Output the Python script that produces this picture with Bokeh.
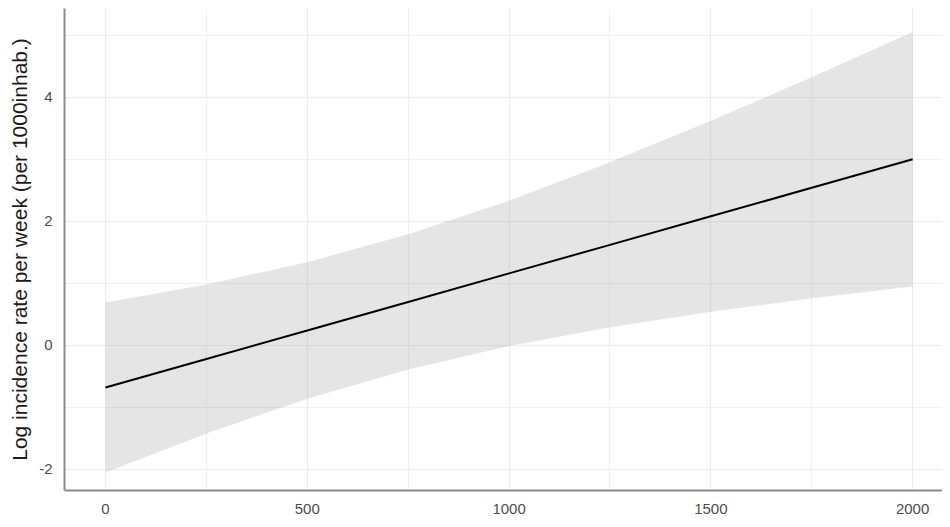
from bokeh.plotting import figure
from bokeh.models import ColumnDataSource, FixedTicker, Range1d, PrintfTickFormatter
from bokeh.embed import file_html
from bokeh.resources import INLINE

# Estimated data
x_vals = [0, 250, 500, 750, 1000, 1250, 1500, 1750, 2000]
fit = [-0.68, -0.22, 0.24, 0.70, 1.16, 1.62, 2.08, 2.54, 3.00]
upper = [0.69, 0.98, 1.34, 1.79, 2.33, 2.95, 3.62, 4.32, 5.05]
lower = [-2.05, -1.42, -0.86, -0.39, -0.01, 0.29, 0.54, 0.76, 0.95]

x_ticks = [0, 500, 1000, 1500, 2000]
x_minor = [250, 750, 1250, 1750]
y_ticks = [-2, 0, 2, 4]
y_minor = [-1, 1, 3, 5]

src = ColumnDataSource(dict(x=x_vals, fit=fit, upper=upper, lower=lower))

p = figure(width=942, height=522, output_backend="svg", toolbar_location=None,
           x_range=Range1d(-101.6, 2074), y_range=Range1d(-2.34, 5.43),
           min_border_left=64, min_border_right=0, min_border_top=8, min_border_bottom=32)
p.outline_line_color = None
p.background_fill_color = "white"

p.varea(x="x", y1="lower", y2="upper", source=src, fill_color="#999999", fill_alpha=0.25)
p.line(x="x", y="fit", source=src, line_color="black", line_width=2)

p.xaxis.ticker = FixedTicker(ticks=x_ticks, minor_ticks=x_minor)
p.yaxis.ticker = FixedTicker(ticks=y_ticks, minor_ticks=y_minor)
p.xaxis.formatter = PrintfTickFormatter(format="%d")
p.yaxis.formatter = PrintfTickFormatter(format="%d")

for g in (p.xgrid, p.ygrid):
    g.grid_line_color = "#ebebeb"
    g.grid_line_width = 1
    g.minor_grid_line_color = "#f0f0f0"
    g.minor_grid_line_width = 1

for ax in (p.xaxis, p.yaxis):
    ax.axis_line_color = "#8c8c8c"
    ax.axis_line_width = 2
    ax.major_tick_line_color = None
    ax.minor_tick_line_color = None
    ax.major_tick_out = 0
    ax.minor_tick_out = 0
    ax.major_label_text_font = "Liberation Sans"
    ax.major_label_text_font_size = "15px"
    ax.major_label_text_color = "#4d4d4d"

p.xaxis.major_label_standoff = 13
p.yaxis.major_label_standoff = 12
p.yaxis.axis_label = "Log incidence rate per week (per 1000inhab.)"
p.yaxis.axis_label_text_font = "Liberation Sans"
p.yaxis.axis_label_text_font_size = "21px"
p.yaxis.axis_label_text_font_style = "normal"
p.yaxis.axis_label_text_color = "#1a1a1a"
p.yaxis.axis_label_standoff = 5

open("out.html", "w").write(file_html(p, INLINE))
